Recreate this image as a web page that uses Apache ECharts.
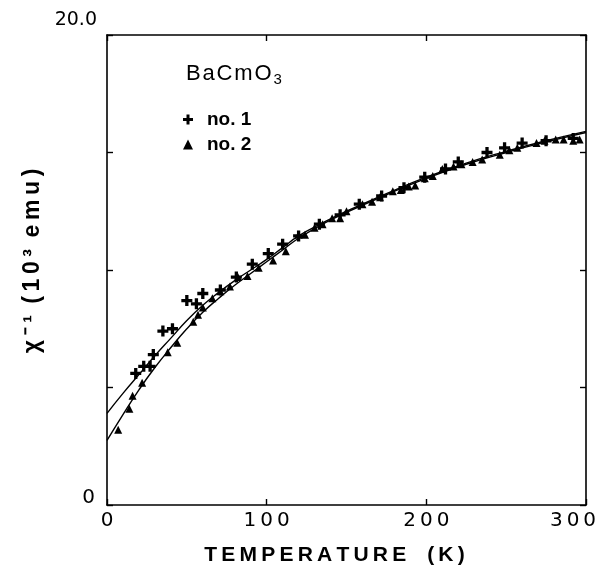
<!DOCTYPE html>
<html><head><meta charset="utf-8">
<script src="https://cdn.jsdelivr.net/npm/echarts@6/dist/echarts.min.js"></script>
<style>html,body{margin:0;padding:0;background:#fff}#c{width:611px;height:571px}</style>
</head><body><div id="c"></div>
<script>
// Sample no.1 (crosses): [T (K), 1/chi (10^3 emu)]
const no1T = [18, 23, 27, 29, 35, 41, 50, 56, 60, 71, 81, 91, 101, 110, 120, 133, 146, 158, 172, 186, 199, 212, 220, 238, 249, 260, 275, 292];
const no1V = [5.6, 5.9, 5.9, 6.4, 7.4, 7.5, 8.7, 8.56, 9.0, 9.15, 9.7, 10.25, 10.7, 11.1, 11.45, 11.95, 12.35, 12.8, 13.15, 13.5, 13.95, 14.3, 14.6, 15.0, 15.2, 15.4, 15.5, 15.6];
// Sample no.2 (triangles)
const no2T = [7, 14, 16, 22, 38, 44, 54, 57, 60, 66, 71, 77, 82, 88, 95, 104, 112, 120, 124, 130, 135, 141, 146, 150, 160, 166, 171, 179, 184, 189, 193, 199, 204, 210, 217, 222, 229, 235, 246, 252, 257, 269, 274, 281, 286, 292, 296];
const no2V = [3.2, 4.1, 4.65, 5.2, 6.5, 6.9, 7.8, 8.1, 8.4, 8.8, 9.1, 9.3, 9.7, 9.75, 10.1, 10.4, 10.8, 11.5, 11.5, 11.8, 11.95, 12.2, 12.2, 12.5, 12.8, 12.9, 13.1, 13.35, 13.4, 13.55, 13.6, 13.9, 14.0, 14.3, 14.4, 14.5, 14.6, 14.7, 14.9, 15.1, 15.2, 15.4, 15.5, 15.55, 15.55, 15.5, 15.55];
// Fitted curves
const fitT = [0, 10, 20, 30, 40, 50, 60, 70, 80, 90, 100, 110, 120, 135, 150, 175, 200, 225, 250, 275, 300];
const fit1V = [3.9, 4.75, 5.55, 6.35, 7.1, 7.85, 8.5, 9.05, 9.55, 10.0, 10.45, 10.95, 11.45, 12.0, 12.5, 13.25, 13.95, 14.55, 15.05, 15.5, 15.9];
const fit2V = [2.75, 3.85, 4.9, 5.85, 6.7, 7.5, 8.2, 8.8, 9.35, 9.85, 10.35, 10.85, 11.35, 11.95, 12.45, 13.2, 13.9, 14.5, 15.0, 15.45, 15.85];
const xTicks = [0, 100, 200, 300];
const yTicks = [0, 5, 10, 15, 20];

const zip = (a, b) => a.map((v, i) => [v, b[i]]);
const sp = s => s.split('').join('\u2009');
const hs = s => s.split('').join('\u200A');
const plus = 'path://M3.5,0H6.5V3.5H10V6.5H6.5V10H3.5V6.5H0V3.5H3.5Z';
const font = 'DejaVu Sans, Liberation Sans, sans-serif';
const font2 = 'Liberation Sans, Arial, sans-serif';

const chart = echarts.init(document.getElementById('c'));
const axisLine = {show: true, onZero: false, lineStyle: {color: '#000', width: 1.6}};
const tick = {show: true, inside: true, length: 6, lineStyle: {color: '#000', width: 1.4}};
chart.setOption({
  animation: false,
  backgroundColor: '#fff',
  grid: {left: 107, right: 25, top: 35, bottom: 64},
  xAxis: [{
    type: 'value', min: 0, max: 300, interval: 100,
    axisLine, splitLine: {show: false}, axisTick: tick,
    axisLabel: {
      margin: 6, color: '#000', fontFamily: font, fontSize: 20,
      formatter: v => xTicks.includes(v) ? (v === 300 ? '{r|' + sp('300') + '}' : sp(String(v))) : '',
      rich: {r: {fontFamily: font, fontSize: 20, color: '#000', padding: [0, 26, 0, 0]}}
    },
    name: sp('TEMPERATURE') + '\u2003' + sp('(K)'), nameLocation: 'middle', nameGap: 40,
    nameTextStyle: {color: '#000', fontFamily: font2, fontSize: 21, fontWeight: 'bold', padding: [0, 24, 0, 0]}
  }, {
    type: 'value', position: 'top', min: 0, max: 300, interval: 100,
    axisLine, splitLine: {show: false}, axisLabel: {show: false}, axisTick: tick
  }],
  yAxis: [{
    type: 'value', min: 0, max: 20, interval: 5,
    axisLine, splitLine: {show: false}, axisTick: tick,
    axisLabel: {
      margin: 8, color: '#000', fontFamily: font, fontSize: 19,
      formatter: v => v === 20 ? '{t|20.0}' : (v === 0 ? '{b|0}' : ''),
      rich: {
        t: {fontFamily: font, fontSize: 19, color: '#000', padding: [0, 2, 30, 0]},
        b: {fontFamily: font, fontSize: 20, color: '#000', padding: [0, 4, 14, 0]}
      }
    },
    name: sp('χ\u207B\u00B9') + '\u2002' + sp('(10\u00B3') + '\u2002' + sp('emu)'),
    nameLocation: 'middle', nameGap: 56, nameRotate: 90,
    nameTextStyle: {color: '#000', fontFamily: font2, fontSize: 23, fontWeight: 'bold', padding: [0, 0, 0, 18]}
  }, {
    type: 'value', position: 'right', min: 0, max: 20, interval: 5,
    axisLine, splitLine: {show: false}, axisLabel: {show: false}, axisTick: tick
  }],
  legend: {
    orient: 'vertical', left: 178, top: 105, itemGap: 6, itemWidth: 10, itemHeight: 10,
    data: [{name: 'no. 1', icon: plus}, {name: 'no. 2', icon: 'triangle'}],
    textStyle: {color: '#000', fontFamily: font2, fontSize: 19, fontWeight: 'bold', padding: [0, 0, 0, 9]}
  },
  graphic: [{
    type: 'text', left: 186, top: 63,
    style: {
      text: '{a|' + hs('BaCmO') + '}{s|3}', fill: '#000',
      rich: {a: {fontFamily: font2, fontSize: 22, fill: '#000'},
             s: {fontFamily: font2, fontSize: 15, fill: '#000', padding: [11, 0, 0, 2]}}
    }
  }],
  series: [
    {type: 'line', data: zip(fitT, fit1V), smooth: true, symbol: 'none', silent: true,
     lineStyle: {color: '#000', width: 1.4}},
    {type: 'line', data: zip(fitT, fit2V), smooth: true, symbol: 'none', silent: true,
     lineStyle: {color: '#000', width: 1.4}},
    {name: 'no. 1', type: 'scatter', data: zip(no1T, no1V), symbol: plus, symbolSize: 11,
     itemStyle: {color: '#000', opacity: 1}},
    {name: 'no. 2', type: 'scatter', data: zip(no2T, no2V), symbol: 'triangle', symbolSize: 8,
     itemStyle: {color: '#000', opacity: 1}}
  ]
});
</script>
</body></html>
